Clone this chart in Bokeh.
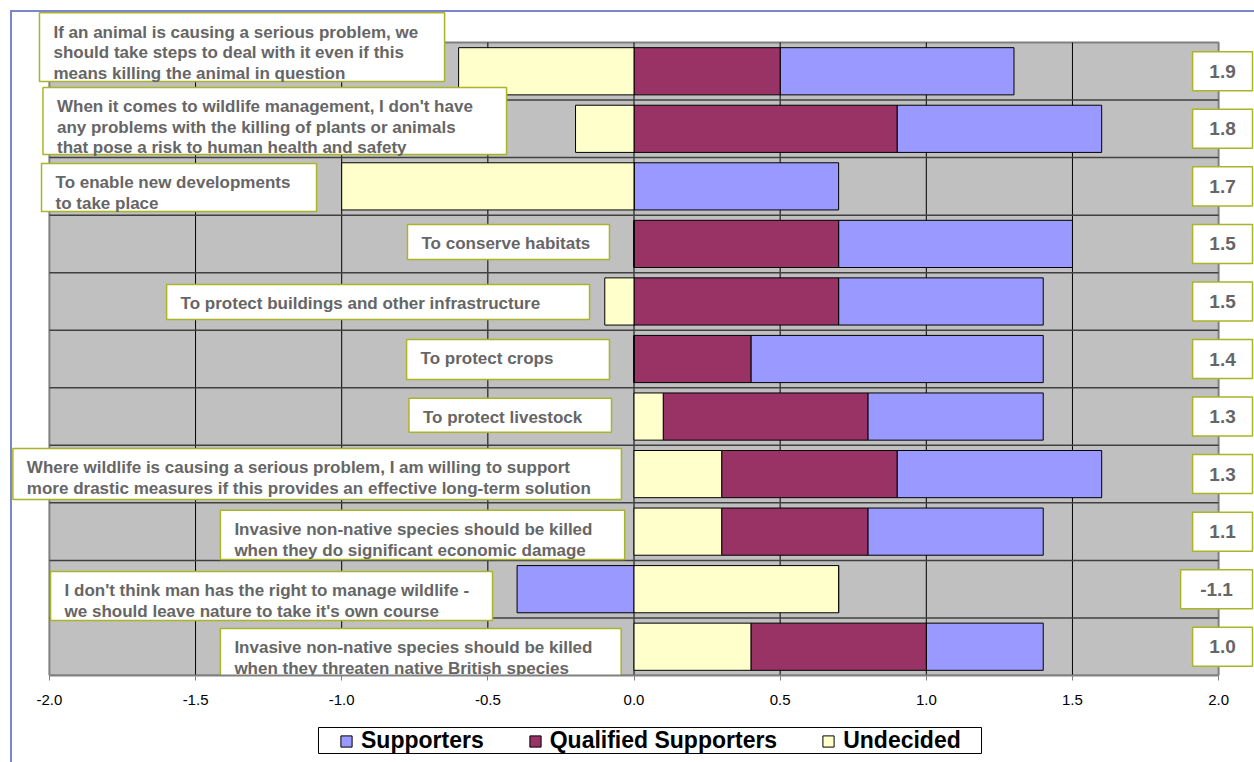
import numpy as np
from bokeh.plotting import figure
from bokeh.layouts import column
from bokeh.models import (Range1d, FixedTicker, NumeralTickFormatter, Legend,
                          LegendItem, ColumnDataSource)
from bokeh.core.properties import value
from bokeh.embed import file_html
from bokeh.resources import INLINE

# ---------------- data ----------------
statements = [
    "If an animal is causing a serious problem, we\nshould take steps to deal with it even if this\nmeans killing the animal in question",
    "When it comes to wildlife management, I don't have\nany problems with the killing of plants or animals\nthat pose a risk to human health and safety",
    "To enable new developments\nto take place",
    "To conserve habitats",
    "To protect buildings and other infrastructure",
    "To protect crops",
    "To protect livestock",
    "Where wildlife is causing a serious problem, I am willing to support\nmore drastic measures if this provides an effective long-term solution",
    "Invasive non-native species should be killed\nwhen they do significant economic damage",
    "I don't think man has the right to manage wildlife -\nwe should leave nature to take it's own course",
    "Invasive non-native species should be killed\nwhen they threaten native British species",
]
supporters = [0.8, 0.7, 0.7, 0.8, 0.7, 1.0, 0.6, 0.7, 0.6, -0.4, 0.4]
qualified = [0.5, 0.9, 0.0, 0.7, 0.7, 0.4, 0.7, 0.6, 0.5, 0.0, 0.6]
undecided = [-0.6, -0.2, -1.0, 0.0, -0.1, 0.0, 0.1, 0.3, 0.3, 0.7, 0.4]
scores = ["1.9", "1.8", "1.7", "1.5", "1.5", "1.4", "1.3", "1.3", "1.1", "-1.1", "1.0"]
x_ticks = [-2.0, -1.5, -1.0, -0.5, 0.0, 0.5, 1.0, 1.5, 2.0]
series_names = ["Supporters", "Qualified Supporters", "Undecided"]
series_colors = ["#9999ff", "#993366", "#ffffcc"]

# layout of the statement boxes (data units)
box_left = [-2.034, -2.022, -2.027, -0.775, -1.599, -0.778, -0.770, -2.125, -1.415, -1.996, -1.415]
box_right = [-0.648, -0.436, -1.086, -0.084, -0.152, -0.084, -0.077, -0.043, -0.032, -0.484, -0.044]
box_top = [11.017, 9.719, 8.398, 7.338, 6.295, 5.340, 4.316, 3.446, 2.370, 1.308, 0.318]
box_bottom = [9.823, 8.554, 7.564, 6.730, 5.687, 4.645, 3.725, 2.560, 1.517, 0.456, -0.603]
score_left = [1.911, 1.911, 1.911, 1.911, 1.911, 1.911, 1.911, 1.911, 1.911, 1.870, 1.911]
score_right = [2.116] * 11
# legend frame (x in chart units, y in legend-strip units)
legend_box = dict(left=-1.0794, right=1.1889, top=100.7447, bottom=100.1915)

n = len(statements)
ypos = np.arange(n)[::-1].astype(float)

# stacked extents (positive to the right, negative to the left)
pos_base = np.zeros(n)
neg_base = np.zeros(n)
extents = {}
for name, vals in [("Undecided", undecided), ("Qualified Supporters", qualified), ("Supporters", supporters)]:
    v = np.array(vals)
    left = np.where(v >= 0, pos_base, neg_base + v)
    right = np.where(v >= 0, pos_base + v, neg_base)
    pos_base = pos_base + np.where(v >= 0, v, 0)
    neg_base = neg_base + np.where(v < 0, v, 0)
    extents[name] = (left, right)

BORDER = "#7b86cf"
XR = (-2.1673, 2.1228)

p = figure(frame_width=1254, frame_height=675, output_backend="svg", toolbar_location=None,
           title=None, x_range=Range1d(*XR), y_range=Range1d(-0.5, 11.230),
           min_border_left=0, min_border_right=0, min_border_top=0, min_border_bottom=40)
p.background_fill_alpha = 0
p.border_fill_alpha = 0
p.outline_line_color = None
p.yaxis.visible = False
p.xgrid.visible = False
p.ygrid.visible = False

# plot area
p.quad(left=[x_ticks[0]], right=[x_ticks[-1]], bottom=[-0.5], top=[n - 0.5],
       fill_color="#c0c0c0", line_color="#808080", line_width=2)
vx = x_ticks[1:-1]
p.segment(x0=vx, x1=vx, y0=[-0.5] * len(vx), y1=[n - 0.5] * len(vx),
          line_color="black", line_width=1)
hy = list(np.arange(n - 1) + 0.5)
p.segment(x0=[x_ticks[0]] * len(hy), x1=[x_ticks[-1]] * len(hy), y0=hy, y1=hy,
          line_color="#404040", line_width=1.5)

for name, color in zip(series_names, series_colors):
    left, right = extents[name]
    src = ColumnDataSource(dict(y=ypos, left=left, right=right))
    p.hbar(y="y", left="left", right="right", height=0.82, source=src,
           fill_color=color, line_color="black", line_width=1)

# statement boxes
p.quad(left=box_left, right=box_right, top=box_top, bottom=box_bottom,
       fill_color="white", line_color="#aab428", line_width=1.5)
p.text(x=box_left, y=box_top, text=statements, x_offset=14, y_offset=10,
       text_font=value("Liberation Sans"), text_font_style="bold",
       text_font_size="17px", text_color="#666666", text_align="left",
       text_baseline="top", text_line_height=1.08)

# score boxes
p.quad(left=score_left, right=score_right, top=ypos + 0.339, bottom=ypos - 0.339,
       fill_color="white", line_color="#aab428", line_width=1.5)
p.text(x=(np.array(score_left) + np.array(score_right)) / 2, y=ypos, text=scores,
       text_font=value("Liberation Sans"), text_font_style="bold",
       text_font_size="19px", text_color="#666666", text_align="center",
       text_baseline="middle")

# axis
ax = p.xaxis[0]
ax.ticker = FixedTicker(ticks=x_ticks)
ax.formatter = NumeralTickFormatter(format="0.0")
ax.bounds = (x_ticks[0], x_ticks[-1])
ax.axis_line_color = "#808080"
ax.axis_line_width = 2
ax.major_tick_line_color = "#808080"
ax.major_tick_out = 5
ax.major_tick_in = 0
ax.minor_tick_line_color = None
ax.major_label_standoff = 14
ax.major_label_text_font = "Liberation Sans"
ax.major_label_text_font_size = "15px"
ax.major_label_text_color = "black"

# ---------------- legend strip ----------------
p2 = figure(frame_width=1254, frame_height=47, output_backend="svg", toolbar_location=None,
            title=None, x_range=Range1d(*XR), y_range=Range1d(100, 101),
            x_axis_type=None, y_axis_type=None,
            min_border_left=0, min_border_right=0, min_border_top=0, min_border_bottom=0)
p2.background_fill_alpha = 0
p2.border_fill_alpha = 0
p2.outline_line_color = None
p2.quad(left=[legend_box["left"]], right=[legend_box["right"]],
        top=[legend_box["top"]], bottom=[legend_box["bottom"]],
        fill_color="white", line_color="black", line_width=1)
items = []
for name, color in zip(series_names, series_colors):
    left, right = extents[name]
    # same series, lying outside this strip's view; used only as legend proxies
    src = ColumnDataSource(dict(y=ypos, left=left, right=right))
    r = p2.hbar(y="y", left="left", right="right", height=0.82, source=src,
                fill_color=color, line_color="black", line_width=1)
    items.append(LegendItem(label=name, renderers=[r]))

legend = Legend(items=items, orientation="horizontal", location=(339, 8))
legend.label_text_font = "Liberation Sans"
legend.label_text_font_style = "bold"
legend.label_text_font_size = "23px"
legend.label_text_color = "black"
legend.glyph_width = 14
legend.glyph_height = 14
legend.label_standoff = 8
legend.spacing = 44
legend.padding = 0
legend.margin = 0
legend.border_line_color = None
legend.background_fill_alpha = 0
p2.add_layout(legend)

layout = column(p, p2, spacing=0, styles={
    "background": (f"linear-gradient({BORDER},{BORDER}) 10px 10px / 2px 100% no-repeat, "
                   f"linear-gradient({BORDER},{BORDER}) 10px 10px / 100% 2px no-repeat, white"),
})

open("out.html", "w").write(file_html(layout, INLINE))
